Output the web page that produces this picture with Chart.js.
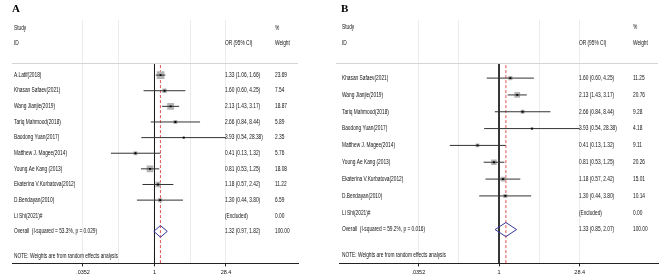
<!DOCTYPE html>
<html>
<head>
<meta charset="utf-8">
<script src="https://cdn.jsdelivr.net/npm/chart.js@4.4.0/dist/chart.umd.min.js"></script>
<style>
html, body { margin: 0; padding: 0; background: #fff; }
#wrap { position: relative; width: 669px; height: 279px; }
.pane { position: absolute; top: 0; height: 279px; }
</style>
</head>
<body>
<div id="wrap">
  <div class="pane" style="left:0;width:335px"><canvas id="chartA"></canvas></div>
  <div class="pane" style="left:335px;width:334px"><canvas id="chartB"></canvas></div>
</div>
<script>
// x axis ticks (log scale); blank labels only carry a grid line
var tickValues = [0.0352, 0.1876, 1, 5.33, 28.4];
var tickLabels = ['.0352', '', '1', '', '28.4'];

// panel A
var studiesA = ['A.Latif(2018)', 'Khasan Safaev(2021)', 'Wang Jianjie(2019)', 'Tariq Mahmood(2018)',
  'Baodong Yuan(2017)', 'Matthew J. Magee(2014)', 'Young Ae Kang (2013)',
  'Ekaterina V.Kurbatova(2012)', 'D.Bendayan(2010)', 'Li Shi(2021)#'];
var orA = [1.33, 1.60, 2.13, 2.66, 3.93, 0.41, 0.81, 1.18, 1.30, null];
var loA = [1.06, 0.60, 1.43, 0.84, 0.54, 0.13, 0.53, 0.57, 0.44, null];
var hiA = [1.66, 4.25, 3.17, 8.44, 28.38, 1.32, 1.25, 2.42, 3.80, null];
var weightA = [23.69, 7.54, 18.87, 5.89, 2.35, 5.76, 18.08, 11.22, 6.59, 0.00];
var overallA = [1.32, 0.97, 1.82];
var overallLabelA = 'Overall  (I-squared = 53.3%, p = 0.029)';

// panel B
var studiesB = ['Khasan Safaev(2021)', 'Wang Jianjie(2019)', 'Tariq Mahmood(2018)',
  'Baodong Yuan(2017)', 'Matthew J. Magee(2014)', 'Young Ae Kang (2013)',
  'Ekaterina V.Kurbatova(2012)', 'D.Bendayan(2010)', 'Li Shi(2021)#'];
var orB = [1.60, 2.13, 2.66, 3.93, 0.41, 0.81, 1.18, 1.30, null];
var loB = [0.60, 1.43, 0.84, 0.54, 0.13, 0.53, 0.57, 0.44, null];
var hiB = [4.25, 3.17, 8.44, 28.38, 1.32, 1.25, 2.42, 3.80, null];
var weightB = [11.25, 20.76, 9.28, 4.18, 9.11, 20.26, 15.01, 10.14, 0.00];
var overallB = [1.33, 0.85, 2.07];
var overallLabelB = 'Overall  (I-squared = 59.2%, p = 0.016)';

var note = 'NOTE: Weights are from random effects analysis';
var axisMax = tickValues[tickValues.length - 1];

function fmt(v) { return v.toFixed(2); }

// stata-like narrow text
function txt(ctx, s, x, y) {
  ctx.save();
  ctx.translate(x, y);
  ctx.scale(0.75, 1);
  ctx.fillText(s, 0, 0);
  ctx.restore();
}

function makePanel(id, p) {
  var n = p.studies.length;
  var datasets = [];
  var dots = [], boxes = [];
  p.or.forEach(function (v, i) {
    if (v == null) return;
    dots.push({ x: v, y: i });
    boxes.push({ x: v, y: i, w: p.weight[i] });
  });
  datasets.push({ data: dots, pointStyle: 'rect', pointRadius: 1.3,
    backgroundColor: '#000', borderWidth: 0, order: 0 });
  p.or.forEach(function (v, i) {
    if (v == null) return;
    datasets.push({ data: [{ x: p.lo[i], y: i }, { x: Math.min(p.hi[i], axisMax), y: i }],
      showLine: true, borderColor: '#333', borderWidth: 1, pointRadius: 0, order: 1 });
  });
  datasets.push({ data: boxes, pointStyle: 'rect',
    pointRadius: function (c) { return c.raw ? p.k * Math.sqrt(c.raw.w) / Math.SQRT2 : 0; },
    backgroundColor: '#b4b4b4', borderWidth: 0, order: 2 });
  var o = p.overall, h = p.dh;
  datasets.push({ data: [{ x: o[1], y: n }, { x: o[0], y: n - h }, { x: o[2], y: n },
    { x: o[0], y: n + h }, { x: o[1], y: n }],
    showLine: true, borderColor: '#35359a', borderWidth: 1, pointRadius: 0, order: 1 });
  datasets.push({ data: [{ x: 1, y: p.headRow }, { x: 1, y: p.yMax }],
    showLine: true, borderColor: '#1a1a1a', borderWidth: 1, pointRadius: 0, order: 3 });
  datasets.push({ data: [{ x: o[0], y: p.dashTop }, { x: o[0], y: p.yMax }],
    showLine: true, borderColor: '#e05050', borderDash: [3, 2], borderWidth: 1, pointRadius: 0, order: 3 });

  var textPlugin = {
    id: 'forestText',
    afterDraw: function (chart) {
      var ctx = chart.ctx, ys = chart.scales.y;
      ctx.save();
      // panel letter
      ctx.fillStyle = '#000';
      ctx.font = 'bold 11px "Liberation Serif", serif';
      ctx.textBaseline = 'middle';
      ctx.fillText(p.letter, p.letterX, 9);
      // header rule
      var hy = Math.round(ys.getPixelForValue(p.headRow)) + 0.5;
      ctx.strokeStyle = '#d4d4d4';
      ctx.lineWidth = 1;
      ctx.beginPath();
      ctx.moveTo(p.ruleL, hy);
      ctx.lineTo(p.ruleR, hy);
      ctx.stroke();
      // text columns
      ctx.fillStyle = '#111';
      ctx.font = '6.4px "Liberation Sans", Arial, sans-serif';
      txt(ctx, 'Study', p.labelX, p.studyY);
      txt(ctx, 'ID', p.labelX, p.idY);
      txt(ctx, 'OR (95% CI)', p.orX, p.idY);
      txt(ctx, '%', p.wX, p.studyY);
      txt(ctx, 'Weight', p.wX, p.idY);
      p.studies.forEach(function (s, i) {
        var y = ys.getPixelForValue(i);
        txt(ctx, s, p.labelX, y);
        var ci = p.or[i] == null ? '(Excluded)' :
          fmt(p.or[i]) + ' (' + fmt(p.lo[i]) + ', ' + fmt(p.hi[i]) + ')';
        txt(ctx, ci, p.orX, y);
        txt(ctx, fmt(p.weight[i]), p.wX, y);
      });
      var oy = ys.getPixelForValue(n);
      txt(ctx, p.overallLabel, p.labelX, oy);
      txt(ctx, fmt(o[0]) + ' (' + fmt(o[1]) + ', ' + fmt(o[2]) + ')', p.orX, oy);
      txt(ctx, '100.00', p.wX, oy);
      txt(ctx, note, p.labelX, p.noteY);
      ctx.restore();
    }
  };

  return new Chart(document.getElementById(id), {
    type: 'scatter',
    data: { datasets: datasets },
    options: {
      responsive: true,
      maintainAspectRatio: false,
      animation: false,
      events: [],
      layout: { padding: p.pad },
      plugins: { legend: { display: false }, tooltip: { enabled: false } },
      scales: {
        x: {
          type: 'logarithmic',
          min: p.xMin,
          max: p.xMax,
          bounds: 'data',
          afterBuildTicks: function (s) {
            s.ticks = tickValues.map(function (v) { return { value: v }; });
          },
          ticks: {
            autoSkip: false,
            maxRotation: 0,
            padding: 3,
            color: '#111',
            font: { family: '"Liberation Sans", Arial, sans-serif', size: 5.5 },
            callback: function (v, i) { return tickLabels[i]; }
          },
          grid: {
            lineWidth: 1,
            tickLength: 3,
            color: function (c) {
              return c.tick && c.tick.value === 1 ? 'rgba(0,0,0,0)' : '#ececec';
            },
            tickColor: function (c) {
              return tickLabels[c.index] ? '#222' : 'rgba(0,0,0,0)';
            }
          },
          border: { display: true, color: '#222', width: 1 }
        },
        y: { type: 'linear', display: false, reverse: true, min: p.yMin, max: p.yMax }
      }
    },
    plugins: [textPlugin]
  });
}

makePanel('chartA', {
  letter: 'A', letterX: 12,
  studies: studiesA, or: orA, lo: loA, hi: hiA, weight: weightA,
  overall: overallA, overallLabel: overallLabelA,
  k: 1.58, dh: 0.37,
  xMin: 0.00127, xMax: 826, yMin: -3.526, yMax: 12.05,
  headRow: -0.77, dashTop: -0.64,
  pad: { left: 12, right: 37, top: 20, bottom: 0 },
  labelX: 14, orX: 225, wX: 275, studyY: 28, idY: 43, noteY: 256,
  ruleL: 12, ruleR: 298
});

makePanel('chartB', {
  letter: 'B', letterX: 6,
  studies: studiesB, or: orB, lo: loB, hi: hiB, weight: weightB,
  overall: overallB, overallLabel: overallLabelB,
  k: 1.25, dh: 0.42,
  xMin: 0.001313, xMax: 731, yMin: -3.452, yMax: 11.01,
  headRow: -0.89, dashTop: -0.77,
  pad: { left: 3, right: 11, top: 20, bottom: 0 },
  labelX: 7, orX: 244, wX: 298, studyY: 27, idY: 43, noteY: 255,
  ruleL: 1, ruleR: 323
});
</script>
</body>
</html>
